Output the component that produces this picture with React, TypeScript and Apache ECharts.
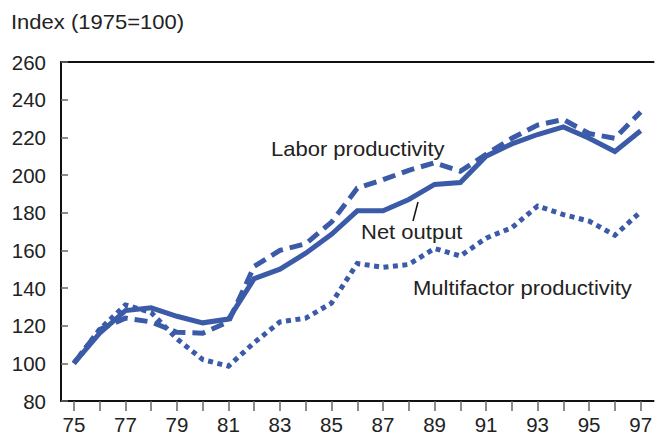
import React, { useEffect, useRef } from "react";
import * as echarts from "echarts";

const years = ["75","76","77","78","79","80","81","82","83","84","85","86","87","88","89","90","91","92","93","94","95","96","97"];
const yearLabels = ["75","77","79","81","83","85","87","89","91","93","95","97"];
const netOutput = [100,116,128,129.5,125,121.5,123.5,145,150,158.5,168.5,181,181,187,195,196,210,216.5,221.5,225.5,219.5,212.5,223.5];
const laborProductivity = [100,118,124,122,116.5,116,122,151.5,160,163.5,175,193,197.5,202.5,206.5,202,211,219.5,226.5,229.5,222,219.5,233.5];
const multifactorProductivity = [100,118,131,127,113,102,98.5,111,122,124,132,153,151,152.5,161,157,166.5,172,183.5,179,175.5,168,180.5];
const yTicks = { min: 80, max: 260, step: 20 };
const titleText = "Index (1975=100)";
const seriesNames = ["Labor productivity", "Net output", "Multifactor productivity"];

const BLUE = "#3b5ba8";
const FONT = "'Liberation Sans', Arial, sans-serif";

export default function App() {
  const ref = useRef<HTMLDivElement>(null);
  useEffect(() => {
    if (!ref.current) return;
    const chart = echarts.init(ref.current, undefined, { renderer: "svg" });
    const txt = (text: string, x: number, y: number) => ({
      type: "text",
      x,
      y,
      scaleX: 1.1,
      style: { text, fill: "#222", font: `20px ${FONT}`, textVerticalAlign: "middle", textAlign: "left", verticalAlign: "middle" },
    });
    chart.setOption({
      animation: false,
      backgroundColor: "#fff",
      textStyle: { fontFamily: FONT },
      grid: { left: 61, top: 62, width: 595, height: 339.5, containLabel: false },
      xAxis: [
        {
          type: "category",
          data: years,
          boundaryGap: true,
          axisLine: { lineStyle: { color: "#111", width: 2 } },
          axisTick: { show: true, interval: 0, alignWithLabel: true, length: 10, lineStyle: { color: "#666", width: 1.5 } },
          axisLabel: {
            interval: (i: number, v: string) => yearLabels.includes(v),
            margin: 13,
            fontSize: 20.5,
            color: "#222",
            fontFamily: FONT,
          },
          splitLine: { show: false },
        },
        {
          type: "category",
          data: years,
          position: "top",
          axisLine: { lineStyle: { color: "#111", width: 2 } },
          axisTick: { show: false },
          axisLabel: { show: false },
          splitLine: { show: false },
        },
      ],
      yAxis: {
        type: "value",
        min: yTicks.min,
        max: yTicks.max,
        interval: yTicks.step,
        axisLine: { show: true, lineStyle: { color: "#111", width: 2 } },
        axisTick: { show: true, inside: true, length: 7, lineStyle: { color: "#666", width: 1.5 } },
        axisLabel: { margin: 15, fontSize: 20.5, color: "#222", fontFamily: FONT },
        splitLine: { show: false },
      },
      series: [
        {
          name: seriesNames[0],
          type: "line",
          data: laborProductivity,
          symbol: "none",
          z: 2,
          lineStyle: { color: BLUE, width: 5, type: [13, 7], cap: "butt", join: "miter" },
        },
        {
          name: seriesNames[2],
          type: "line",
          data: multifactorProductivity,
          symbol: "none",
          z: 2,
          lineStyle: { color: BLUE, width: 5, type: [5, 4.5], cap: "butt", join: "miter" },
        },
        {
          name: seriesNames[1],
          type: "line",
          data: netOutput,
          symbol: "none",
          z: 3,
          lineStyle: { color: BLUE, width: 5, type: "solid", join: "miter" },
        },
      ],
      graphic: [
        txt(titleText, 11, 21.7),
        txt(seriesNames[0], 271, 149),
        txt(seriesNames[1], 361, 231.7),
        txt(seriesNames[2], 413, 287.7),
        { type: "line", shape: { x1: 418, y1: 202, x2: 413, y2: 221 }, style: { stroke: "#111", lineWidth: 1.5 } },
      ],
    });
    return () => chart.dispose();
  }, []);
  return <div ref={ref} style={{ position: "fixed", left: 0, top: 0, width: 655, height: 435 }} />;
}
